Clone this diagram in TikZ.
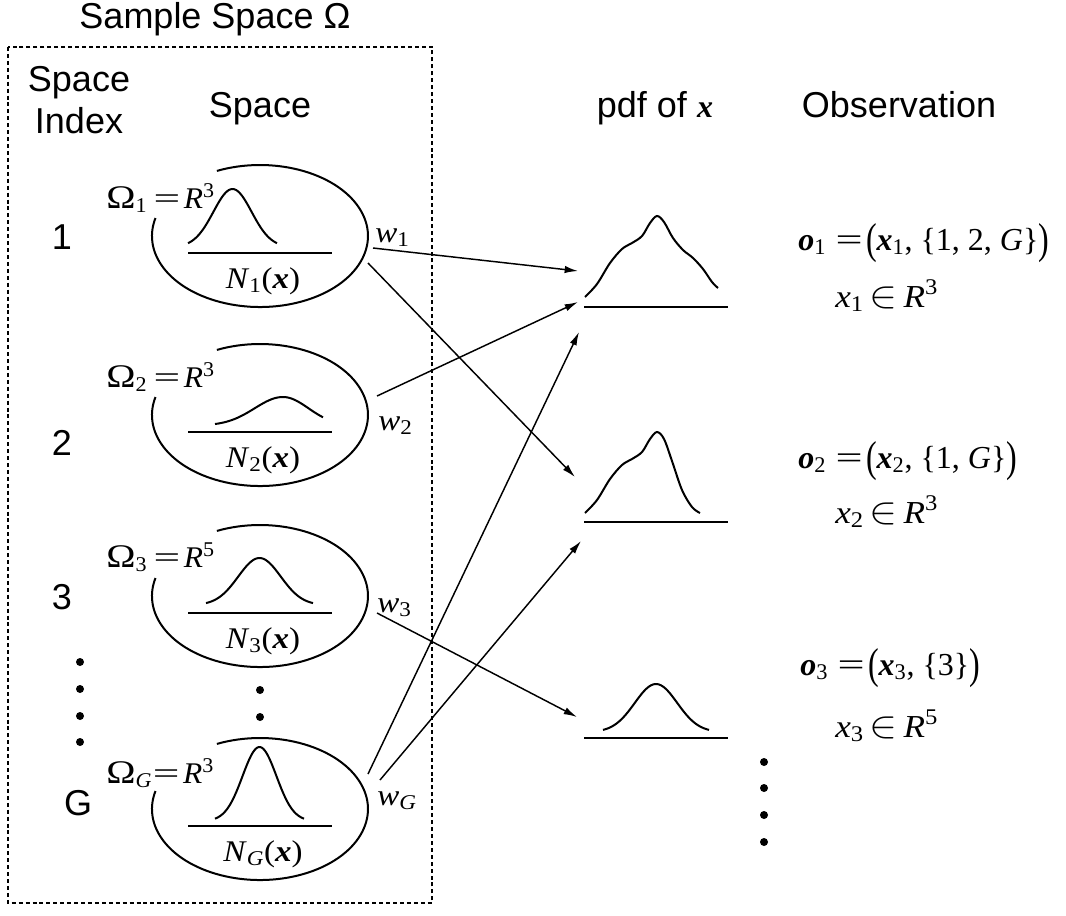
\documentclass[tikz,border=0pt]{standalone}
\usepackage{fontspec}
\setmainfont{Liberation Serif}
\newfontfamily\sansf{Liberation Sans}
\usetikzlibrary{arrows.meta}
\newcommand{\mf}{\fontsize{22.5}{27}\selectfont}
\newcommand{\obf}{\fontsize{24}{29}\selectfont}
\newcommand{\sfz}{\sansf\fontsize{27}{31.5}\selectfont}
\newcommand{\bx}{\textbf{\textit{x}}}
\newcommand{\bo}{\textbf{\textit{o}}}
\newcommand{\bigp}[1]{\raisebox{-0.1em}{\scalebox{1}[1.35]{#1}}}
\newcommand{\eqs}[1]{\scalebox{1.1}[1]{#1}}
\newcommand{\eqsg}{\scalebox{1.5}[1]{=}}
\newcommand{\Om}{\scalebox{1.25}[1.1]{Ω}}
\newcommand{\elt}{\,\scalebox{1.15}{$\in$}\,}
\newcommand{\omlbl}[2]{\scalebox{1.05}[1]{\Om\textsubscript{#1}\hspace{0.2em}\eqsg\hspace{0.12em}\textit{R}\textsuperscript{#2}}}
\begin{document}
\begin{tikzpicture}[x=0.75pt,y=-0.75pt,
  sanslbl/.style={font=\sfz, inner sep=0pt},
  mathlbl/.style={font=\mf, inner sep=0pt},
  obslbl/.style={font=\obf, inner sep=0pt},
  curve/.style={line width=1.5pt},
  conn/.style={line width=1.1pt, -{Latex[length=10pt,width=5.5pt]}},
  dotmark/.style={circle, fill=black, inner sep=0pt, minimum size=6pt},
  frame/.style={line width=1.3pt, dash pattern=on 3pt off 2.2pt},
  declare function={gs(\x,\m,\s)=exp(-((\x-\m)/\s)*((\x-\m)/\s));}
]
\useasboundingbox (0,0) rectangle (1066,915);

% frame and headings
\draw[frame] (8,47) rectangle (432,903);
\node[sanslbl, anchor=base] (title) at (215,28) {Sample Space Ω};
\node[sanslbl, anchor=base] (hidx1) at (79,91) {Space};
\node[sanslbl, anchor=base] (hidx2) at (79,133) {Index};
\node[sanslbl, anchor=base] (hspace) at (260,117) {Space};
\node[sanslbl, anchor=base] (hpdf) at (655,117) {pdf of {\rmfamily\obf\bx}};
\node[sanslbl, anchor=base] (hobs) at (899,117) {Observation};

% indices
\node[sanslbl] (i1) at (62,237) {1};
\node[sanslbl] (i2) at (62,443) {2};
\node[sanslbl] (i3) at (62,597) {3};
\node[sanslbl] (iG) at (78,803) {G};
\node[dotmark] (ld1) at (80,662) {};
\node[dotmark] (ld2) at (80,689) {};
\node[dotmark] (ld3) at (80,716) {};
\node[dotmark] (ld4) at (80,742) {};
\node[dotmark] (md1) at (260,690) {};
\node[dotmark] (md2) at (260,717) {};
\node[dotmark] (rd1) at (764,762) {};
\node[dotmark] (rd2) at (764,788) {};
\node[dotmark] (rd3) at (764,815) {};
\node[dotmark] (rd4) at (764,842) {};

% ellipse centres
\coordinate (e1) at (260,236);
\coordinate (e2) at (260,415);
\coordinate (e3) at (260,596);
\coordinate (eG) at (260,809);
\foreach \e in {e1,e2,e3,eG}{
  \draw[curve] (\e) ++(-43.1,-65.1) arc[start angle=246.5, end angle=554.7, x radius=108, y radius=71];
  \draw[curve] (\e) ++(-72,17) -- ++(144,0);
}

% bells in ellipses
\draw[curve] plot[domain=188:277, samples=60] (\x, {247-58*gs(\x,232.5,27)});
\draw[curve] plot[domain=215:283, samples=40] (\x, {425.6-28.6*gs(\x,283,40)})
  -- plot[domain=283:323, samples=30] (\x, {425.6-28.6*gs(\x,283,36)});
\draw[curve] plot[domain=206:313, samples=60] (\x, {605-47*gs(\x,259.5,30)});
\draw[curve] plot[domain=215:304, samples=60] (\x, {821-74*gs(\x,259.5,24)});

% ellipse labels
\node[mathlbl, anchor=base west] (o1l) at (106,208) {\omlbl{1}{3}};
\node[mathlbl, anchor=base west] (o2l) at (106,387) {\omlbl{2}{3}};
\node[mathlbl, anchor=base west] (o3l) at (106,567) {\omlbl{3}{5}};
\node[mathlbl, anchor=base west] (oGl) at (106,783) {\scalebox{1.05}[1]{\Om\textsubscript{\textit{G}}\hspace{0.02em}\eqsg\hspace{0.12em}\textit{R}\textsuperscript{3}}};
\node[mathlbl, anchor=base] (n1) at (263,288) {\eqs{\textit{N}\textsubscript{1}(\bx)}};
\node[mathlbl, anchor=base] (n2) at (263,467) {\eqs{\textit{N}\textsubscript{2}(\bx)}};
\node[mathlbl, anchor=base] (n3) at (263,648) {\eqs{\textit{N}\textsubscript{3}(\bx)}};
\node[mathlbl, anchor=base] (nG) at (263,861) {\eqs{\textit{N}\textsubscript{\textit{G}}(\bx)}};
\node[mathlbl, anchor=base west] (w1) at (375,242) {\eqs{\textit{w}\textsubscript{1}}};
\node[mathlbl, anchor=base west] (w2) at (378,430) {\eqs{\textit{w}\textsubscript{2}}};
\node[mathlbl, anchor=base west] (w3) at (377,612) {\eqs{\textit{w}\textsubscript{3}}};
\node[mathlbl, anchor=base west] (wG) at (377,805) {\eqs{\textit{w}\textsubscript{\textit{G}}}};

% pdfs
\draw[curve] (584,307) -- (728,307);
\draw[curve] (584,522) -- (728,522);
\draw[curve] (584,738) -- (728,738);
\draw[curve] plot[smooth, tension=0.55] coordinates {(585,297) (597,284) (610,263) (622,249) (632,243) (642,236) (650,223) (657,216) (664,222) (673,238) (683,250) (693,258) (703,269) (712,282) (718,288)};
\draw[curve] plot[smooth, tension=0.55] coordinates {(585,513) (597,500) (610,479) (622,465) (632,459) (642,452) (650,439) (657,432) (664,439) (672,461) (682,490) (692,507) (700,513)};
\draw[curve] plot[domain=603:709, samples=60] (\x, {732-48*gs(\x,656,30)});

% observations
\node[obslbl, anchor=base west] (ob1) at (798,250) {\bo\textsubscript{1}\hspace{0.3em}\eqsg\hspace{0.1em}\bigp{(}\bx\textsubscript{1}, \{1, 2, \textit{G}\}\bigp{)}};
\node[obslbl, anchor=base west] (xe1) at (835,307) {\eqs{\textit{x}\textsubscript{1}\elt\textit{R}\textsuperscript{3}}};
\node[obslbl, anchor=base west] (ob2) at (798,468) {\bo\textsubscript{2}\hspace{0.3em}\eqsg\hspace{0.1em}\bigp{(}\bx\textsubscript{2}, \{1, \textit{G}\}\bigp{)}};
\node[obslbl, anchor=base west] (xe2) at (835,523) {\eqs{\textit{x}\textsubscript{2}\elt\textit{R}\textsuperscript{3}}};
\node[obslbl, anchor=base west] (ob3) at (800,675) {\bo\textsubscript{3}\hspace{0.3em}\eqsg\hspace{0.1em}\bigp{(}\bx\textsubscript{3}, \{3\}\bigp{)}};
\node[obslbl, anchor=base west] (xe3) at (835,737) {\eqs{\textit{x}\textsubscript{3}\elt\textit{R}\textsuperscript{5}}};

% connectors
\coordinate (s1a) at (373,248);
\coordinate (s1b) at (368,263);
\coordinate (s2) at (377,396);
\coordinate (s3) at (377,613);
\coordinate (sGa) at (368,774);
\coordinate (sGb) at (380,780);
\coordinate (t1a) at (578,271);
\coordinate (t1b) at (578,302);
\coordinate (t1c) at (579,332);
\coordinate (t2a) at (575,477);
\coordinate (t2b) at (581,541);
\coordinate (t3) at (577,717);
\draw[conn] (s1a) -- (t1a);
\draw[conn] (s1b) -- (t2a);
\draw[conn] (s2) -- (t1b);
\draw[conn] (s3) -- (t3);
\draw[conn] (sGa) -- (t1c);
\draw[conn] (sGb) -- (t2b);
\end{tikzpicture}
\end{document}
